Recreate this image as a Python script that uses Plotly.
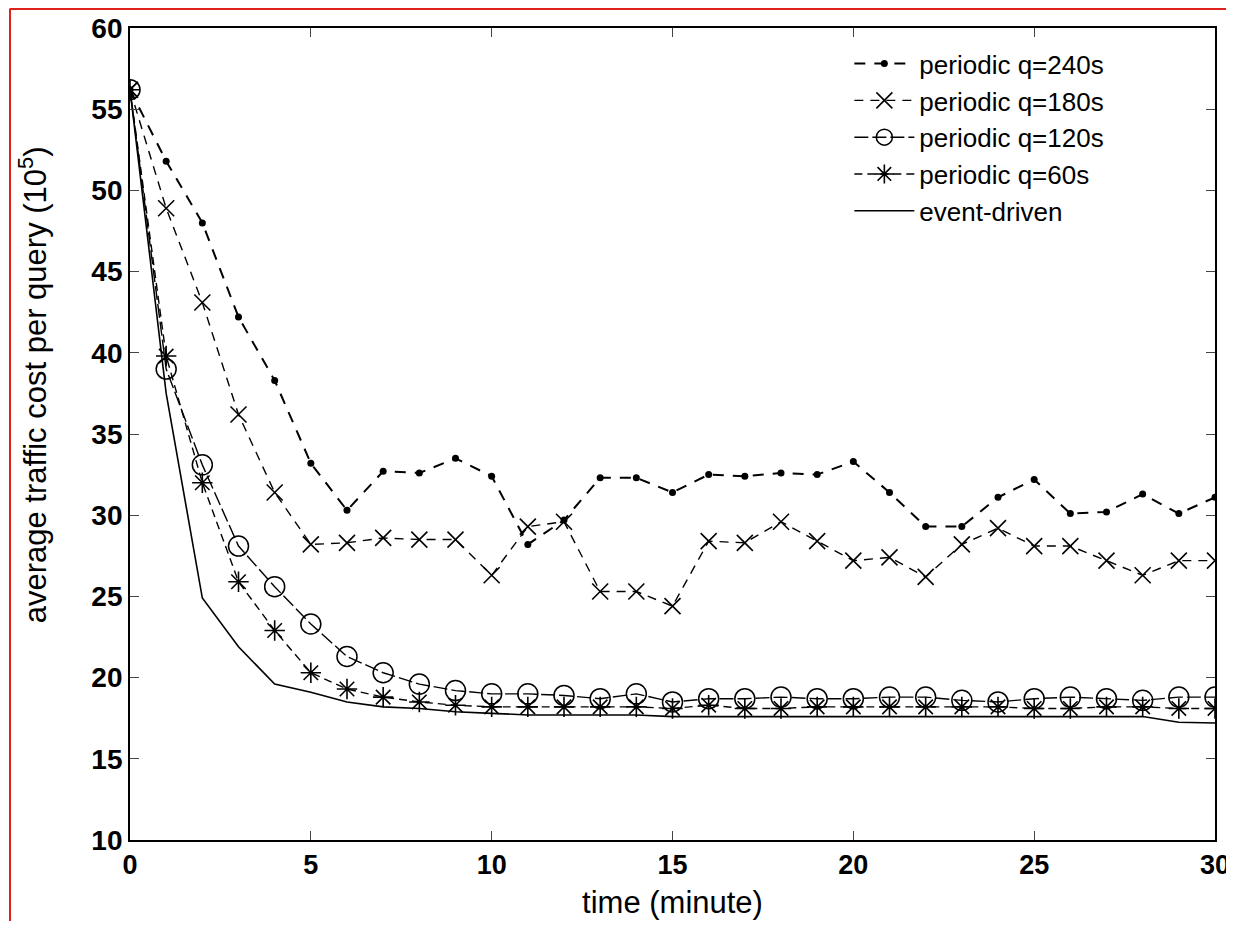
import plotly.graph_objects as go

time_min = list(range(0, 31))

q240 = [56.2, 51.8, 48.0, 42.2, 38.3, 33.2, 30.3, 32.7, 32.6, 33.5, 32.4,
        28.2, 29.7, 32.3, 32.3, 31.4, 32.5, 32.4, 32.6, 32.5, 33.3,
        31.4, 29.3, 29.3, 31.1, 32.2, 30.1, 30.2, 31.3, 30.1, 31.1]
q180 = [56.2, 48.9, 43.1, 36.2, 31.4, 28.2, 28.3, 28.6, 28.5, 28.5, 26.3,
        29.3, 29.6, 25.3, 25.3, 24.4, 28.4, 28.3, 29.6, 28.4, 27.2,
        27.4, 26.2, 28.2, 29.2, 28.1, 28.1, 27.2, 26.3, 27.2, 27.2]
q120 = [56.2, 39.0, 33.1, 28.1, 25.6, 23.3, 21.3, 20.3, 19.6, 19.2, 19.0,
        19.0, 18.9, 18.7, 19.0, 18.5, 18.7, 18.7, 18.8, 18.7, 18.7,
        18.8, 18.8, 18.6, 18.5, 18.7, 18.8, 18.7, 18.6, 18.8, 18.8]
q60 = [56.2, 39.8, 32.0, 25.9, 22.9, 20.3, 19.3, 18.8, 18.5, 18.3, 18.2,
       18.2, 18.2, 18.2, 18.2, 18.1, 18.3, 18.1, 18.1, 18.2, 18.2,
       18.2, 18.2, 18.2, 18.2, 18.1, 18.1, 18.2, 18.2, 18.1, 18.1]
event = [56.2, 37.5, 24.9, 21.9, 19.6, 19.1, 18.5, 18.2, 18.1, 17.9, 17.8,
         17.7, 17.7, 17.7, 17.7, 17.6, 17.6, 17.6, 17.6, 17.6, 17.6,
         17.6, 17.6, 17.6, 17.6, 17.6, 17.6, 17.6, 17.6, 17.25, 17.2]

x_ticks = [0, 5, 10, 15, 20, 25, 30]
y_ticks = [10, 15, 20, 25, 30, 35, 40, 45, 50, 55, 60]
y_title = "average traffic cost per query (10<sup>5</sup>)"
x_title = "time (minute)"

FONT = "Liberation Sans, Arial, sans-serif"
fig = go.Figure()

fig.add_trace(go.Scatter(x=time_min, y=q240, name="periodic q=240s", mode="lines+markers",
                         line=dict(color="black", width=2, dash="11px,9px"),
                         marker=dict(symbol="circle", size=7, color="black")))
fig.add_trace(go.Scatter(x=time_min, y=q180, name="periodic q=180s", mode="lines+markers",
                         line=dict(color="black", width=1.4, dash="9px,7px"),
                         marker=dict(symbol="x-thin-open", size=16, color="black",
                                     line=dict(width=1.6, color="black"))))
fig.add_trace(go.Scatter(x=time_min, y=q120, name="periodic q=120s", mode="lines+markers",
                         line=dict(color="black", width=1.4, dash="14px,4px"),
                         marker=dict(symbol="circle-open", size=20, color="black",
                                     line=dict(width=1.5, color="black"))))
fig.add_trace(go.Scatter(x=time_min, y=q60, name="periodic q=60s", mode="lines+markers",
                         line=dict(color="black", width=1.4, dash="8px,5px"),
                         marker=dict(symbol="asterisk-open", size=17, color="black",
                                     line=dict(width=1.6, color="black"))))
fig.add_trace(go.Scatter(x=time_min, y=event, name="event-driven", mode="lines",
                         line=dict(color="black", width=1.6)))

# slide frame artifacts (red border)
fig.add_shape(type="line", xref="paper", yref="paper", x0=-0.1106, x1=-0.1106, y0=1.024, y1=-0.12,
              line=dict(color="#e0201c", width=2))
fig.add_shape(type="line", xref="paper", yref="paper", x0=-0.1106, x1=1.02, y0=1.0234, y1=1.0234,
              line=dict(color="#e0201c", width=2))

# y-axis title placed like the reference (slightly above the axis centre)
fig.add_annotation(text=y_title, xref="paper", yref="paper", x=-0.0894, y=0.56,
                   xanchor="center", yanchor="middle", textangle=-90, showarrow=False,
                   font=dict(size=31, family=FONT, color="black"))

fig.update_layout(
    width=1226, height=913,
    paper_bgcolor="white", plot_bgcolor="white",
    margin=dict(l=122, r=19, t=20, b=81),
    font=dict(family=FONT, color="black"),
    showlegend=True,
    legend=dict(x=0.663, y=0.985, xanchor="left", yanchor="top",
                bgcolor="rgba(255,255,255,0)", borderwidth=0,
                font=dict(size=26, family=FONT), itemwidth=60, tracegroupgap=0),
    xaxis=dict(range=[0, 30], tickvals=x_ticks, ticks="inside", ticklen=9, tickwidth=1.2,
               mirror="ticks", showline=True, linecolor="black", linewidth=1.8,
               showgrid=False, zeroline=False, automargin=False, ticklabeloverflow="allow",
               tickfont=dict(size=27, family=FONT, weight="bold"),
               title=dict(text=x_title, font=dict(size=31, family=FONT), standoff=12)),
    yaxis=dict(range=[10, 60], tickvals=y_ticks, ticks="inside", ticklen=9, tickwidth=1.2,
               mirror="ticks", showline=True, linecolor="black", linewidth=1.8,
               showgrid=False, zeroline=False, automargin=False, ticklabeloverflow="allow",
               tickfont=dict(size=28, family=FONT, weight="bold")),
)

fig.write_html("out.html")
